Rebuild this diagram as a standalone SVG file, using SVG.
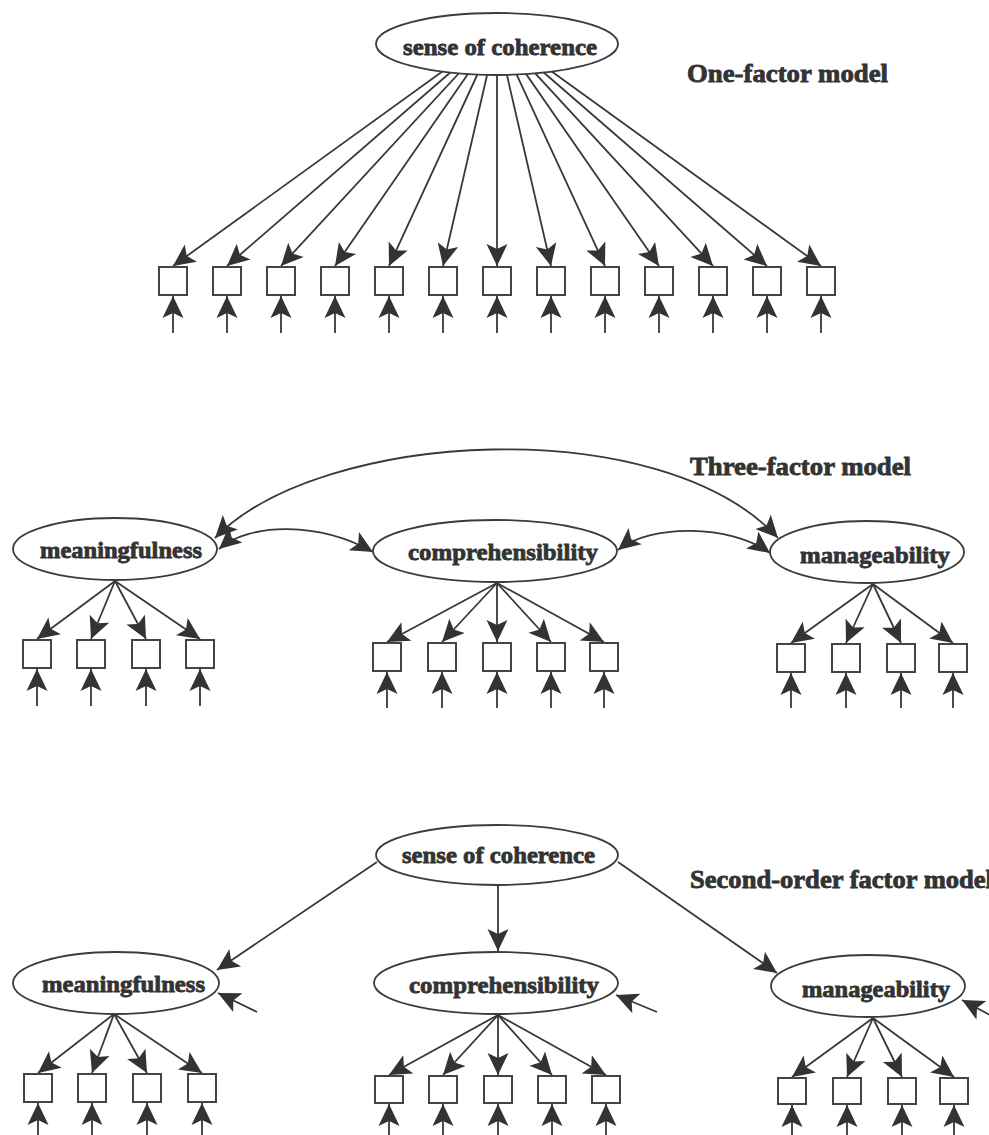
<svg xmlns="http://www.w3.org/2000/svg" width="989" height="1135" viewBox="0 0 989 1135">
<defs>
<marker id="ah" viewBox="-24 -12 25 24" refX="0" refY="0" markerWidth="25" markerHeight="24" markerUnits="userSpaceOnUse" orient="auto-start-reverse">
<path d="M0,0 L-22,-10.5 L-17,0 L-22,10.5 Z" fill="#333"/>
</marker>
<style>
.ln{stroke:#383838;stroke-width:1.8;fill:none;marker-end:url(#ah)}
.cv{stroke:#383838;stroke-width:1.8;fill:none;marker-start:url(#ah);marker-end:url(#ah)}
ellipse{fill:#fff;stroke:#3c3c3c;stroke-width:1.8}
rect{fill:#fff;stroke:#444;stroke-width:2}
text{font-family:"Liberation Serif","Times New Roman",serif;font-weight:bold;fill:#333;stroke:#333;stroke-width:0.8}
.lb{font-size:24px}
.tt{font-size:25px}
</style>
</defs>
<rect x="0" y="0" width="989" height="1135" style="fill:#fff;stroke:none"/>

<g id="connectors">
<!-- one-factor loadings -->
<path class="ln" d="M497,32 L173,266"/>
<path class="ln" d="M497,32 L227,266"/>
<path class="ln" d="M497,32 L281,266"/>
<path class="ln" d="M497,32 L335,266"/>
<path class="ln" d="M497,32 L389,266"/>
<path class="ln" d="M497,32 L443,266"/>
<path class="ln" d="M497,32 L497,266"/>
<path class="ln" d="M497,32 L551,266"/>
<path class="ln" d="M497,32 L605,266"/>
<path class="ln" d="M497,32 L659,266"/>
<path class="ln" d="M497,32 L713,266"/>
<path class="ln" d="M497,32 L767,266"/>
<path class="ln" d="M497,32 L821,266"/>
<!-- one-factor errors -->
<path class="ln" d="M173,333 L173,296"/>
<path class="ln" d="M227,333 L227,296"/>
<path class="ln" d="M281,333 L281,296"/>
<path class="ln" d="M335,333 L335,296"/>
<path class="ln" d="M389,333 L389,296"/>
<path class="ln" d="M443,333 L443,296"/>
<path class="ln" d="M497,333 L497,296"/>
<path class="ln" d="M551,333 L551,296"/>
<path class="ln" d="M605,333 L605,296"/>
<path class="ln" d="M659,333 L659,296"/>
<path class="ln" d="M713,333 L713,296"/>
<path class="ln" d="M767,333 L767,296"/>
<path class="ln" d="M821,333 L821,296"/>

<!-- three-factor covariances -->
<path class="cv" d="M215,538 C320,430 660,410 778,538"/>
<path class="cv" d="M219,549 C250,522 320,522 373,552"/>
<path class="cv" d="M618,550 C650,524 730,524 770,553"/>
<!-- three-factor loadings -->
<path class="ln" d="M115,581 L37,639"/>
<path class="ln" d="M115,581 L91,639"/>
<path class="ln" d="M115,581 L146,639"/>
<path class="ln" d="M115,581 L200,639"/>
<path class="ln" d="M497,583 L387,642"/>
<path class="ln" d="M497,583 L442,642"/>
<path class="ln" d="M497,583 L497,642"/>
<path class="ln" d="M497,583 L551,642"/>
<path class="ln" d="M497,583 L604,642"/>
<path class="ln" d="M873,584 L791,643"/>
<path class="ln" d="M873,584 L846,643"/>
<path class="ln" d="M873,584 L901,643"/>
<path class="ln" d="M873,584 L953,643"/>
<!-- three-factor errors -->
<path class="ln" d="M37,706 L37,669"/>
<path class="ln" d="M91,706 L91,669"/>
<path class="ln" d="M146,706 L146,669"/>
<path class="ln" d="M200,706 L200,669"/>
<path class="ln" d="M387,708 L387,672"/>
<path class="ln" d="M442,708 L442,672"/>
<path class="ln" d="M497,708 L497,672"/>
<path class="ln" d="M551,708 L551,672"/>
<path class="ln" d="M604,708 L604,672"/>
<path class="ln" d="M791,708 L791,673"/>
<path class="ln" d="M846,708 L846,673"/>
<path class="ln" d="M901,708 L901,673"/>
<path class="ln" d="M953,708 L953,673"/>

<!-- second-order structural paths -->
<path class="ln" d="M377,862 L217,970"/>
<path class="ln" d="M498,885 L498,951"/>
<path class="ln" d="M618,862 L777,973"/>
<!-- disturbances -->
<path class="ln" d="M257,1012 L218,993"/>
<path class="ln" d="M657,1012 L616,995"/>
<path class="ln" d="M992,1016 L962,1000"/>
<!-- second-order loadings -->
<path class="ln" d="M114,1014 L38,1073"/>
<path class="ln" d="M114,1014 L92,1073"/>
<path class="ln" d="M114,1014 L147,1073"/>
<path class="ln" d="M114,1014 L202,1073"/>
<path class="ln" d="M498,1015 L389,1075"/>
<path class="ln" d="M498,1015 L443,1075"/>
<path class="ln" d="M498,1015 L498,1075"/>
<path class="ln" d="M498,1015 L552,1075"/>
<path class="ln" d="M498,1015 L606,1075"/>
<path class="ln" d="M873,1018 L792,1077"/>
<path class="ln" d="M873,1018 L847,1077"/>
<path class="ln" d="M873,1018 L902,1077"/>
<path class="ln" d="M873,1018 L954,1077"/>
<!-- second-order errors -->
<path class="ln" d="M38,1135 L38,1103"/>
<path class="ln" d="M92,1135 L92,1103"/>
<path class="ln" d="M147,1135 L147,1103"/>
<path class="ln" d="M202,1135 L202,1103"/>
<path class="ln" d="M389,1135 L389,1104"/>
<path class="ln" d="M443,1135 L443,1104"/>
<path class="ln" d="M498,1135 L498,1104"/>
<path class="ln" d="M552,1135 L552,1104"/>
<path class="ln" d="M606,1135 L606,1104"/>
<path class="ln" d="M792,1135 L792,1105"/>
<path class="ln" d="M847,1135 L847,1105"/>
<path class="ln" d="M902,1135 L902,1105"/>
<path class="ln" d="M954,1135 L954,1105"/>
</g>

<g id="titles">
<text class="tt" x="687" y="82" textLength="201" lengthAdjust="spacingAndGlyphs">One-factor model</text>
<text class="tt" x="690" y="475" textLength="221" lengthAdjust="spacingAndGlyphs">Three-factor model</text>
<text class="tt" x="690" y="888" textLength="303" lengthAdjust="spacingAndGlyphs">Second-order factor model</text>
</g>

<!-- One-factor model nodes -->
<g id="f1-soc"><ellipse cx="497" cy="44" rx="121" ry="31"/><text class="lb" x="403" y="55" textLength="194" lengthAdjust="spacingAndGlyphs">sense of coherence</text></g>
<g id="f1-i01"><rect x="159" y="267" width="28" height="28"/></g>
<g id="f1-i02"><rect x="213" y="267" width="28" height="28"/></g>
<g id="f1-i03"><rect x="267" y="267" width="28" height="28"/></g>
<g id="f1-i04"><rect x="321" y="267" width="28" height="28"/></g>
<g id="f1-i05"><rect x="375" y="267" width="28" height="28"/></g>
<g id="f1-i06"><rect x="429" y="267" width="28" height="28"/></g>
<g id="f1-i07"><rect x="483" y="267" width="28" height="28"/></g>
<g id="f1-i08"><rect x="537" y="267" width="28" height="28"/></g>
<g id="f1-i09"><rect x="591" y="267" width="28" height="28"/></g>
<g id="f1-i10"><rect x="645" y="267" width="28" height="28"/></g>
<g id="f1-i11"><rect x="699" y="267" width="28" height="28"/></g>
<g id="f1-i12"><rect x="753" y="267" width="28" height="28"/></g>
<g id="f1-i13"><rect x="807" y="267" width="28" height="28"/></g>

<!-- Three-factor model nodes -->
<g id="f3-mean"><ellipse cx="115" cy="549" rx="102" ry="31"/><text class="lb" x="40" y="558" textLength="162" lengthAdjust="spacingAndGlyphs">meaningfulness</text></g>
<g id="f3-comp"><ellipse cx="495" cy="551" rx="122" ry="31"/><text class="lb" x="408" y="560" textLength="190" lengthAdjust="spacingAndGlyphs">comprehensibility</text></g>
<g id="f3-man"><ellipse cx="867" cy="552" rx="97" ry="31"/><text class="lb" x="800" y="563" textLength="150" lengthAdjust="spacingAndGlyphs">manageability</text></g>
<g id="f3-m1"><rect x="23" y="640" width="28" height="28"/></g>
<g id="f3-m2"><rect x="77" y="640" width="28" height="28"/></g>
<g id="f3-m3"><rect x="132" y="640" width="28" height="28"/></g>
<g id="f3-m4"><rect x="186" y="640" width="28" height="28"/></g>
<g id="f3-c1"><rect x="373" y="643" width="28" height="28"/></g>
<g id="f3-c2"><rect x="428" y="643" width="28" height="28"/></g>
<g id="f3-c3"><rect x="483" y="643" width="28" height="28"/></g>
<g id="f3-c4"><rect x="537" y="643" width="28" height="28"/></g>
<g id="f3-c5"><rect x="590" y="643" width="28" height="28"/></g>
<g id="f3-g1"><rect x="777" y="644" width="28" height="28"/></g>
<g id="f3-g2"><rect x="832" y="644" width="28" height="28"/></g>
<g id="f3-g3"><rect x="887" y="644" width="28" height="28"/></g>
<g id="f3-g4"><rect x="939" y="644" width="28" height="28"/></g>

<!-- Second-order model nodes -->
<g id="f2-soc"><ellipse cx="497" cy="855" rx="121" ry="30"/><text class="lb" x="402" y="863" textLength="193" lengthAdjust="spacingAndGlyphs">sense of coherence</text></g>
<g id="f2-mean"><ellipse cx="116" cy="983" rx="103" ry="31"/><text class="lb" x="42" y="992" textLength="163" lengthAdjust="spacingAndGlyphs">meaningfulness</text></g>
<g id="f2-comp"><ellipse cx="496" cy="983" rx="122" ry="31"/><text class="lb" x="409" y="993" textLength="190" lengthAdjust="spacingAndGlyphs">comprehensibility</text></g>
<g id="f2-man"><ellipse cx="868" cy="986" rx="97" ry="31"/><text class="lb" x="802" y="997" textLength="148" lengthAdjust="spacingAndGlyphs">manageability</text></g>
<g id="f2-m1"><rect x="24" y="1074" width="28" height="28"/></g>
<g id="f2-m2"><rect x="78" y="1074" width="28" height="28"/></g>
<g id="f2-m3"><rect x="133" y="1074" width="28" height="28"/></g>
<g id="f2-m4"><rect x="188" y="1074" width="28" height="28"/></g>
<g id="f2-c1"><rect x="375" y="1076" width="28" height="27"/></g>
<g id="f2-c2"><rect x="429" y="1076" width="28" height="27"/></g>
<g id="f2-c3"><rect x="484" y="1076" width="28" height="27"/></g>
<g id="f2-c4"><rect x="538" y="1076" width="28" height="27"/></g>
<g id="f2-c5"><rect x="592" y="1076" width="28" height="27"/></g>
<g id="f2-g1"><rect x="778" y="1078" width="28" height="26"/></g>
<g id="f2-g2"><rect x="833" y="1078" width="28" height="26"/></g>
<g id="f2-g3"><rect x="888" y="1078" width="28" height="26"/></g>
<g id="f2-g4"><rect x="940" y="1078" width="28" height="26"/></g>
</svg>
